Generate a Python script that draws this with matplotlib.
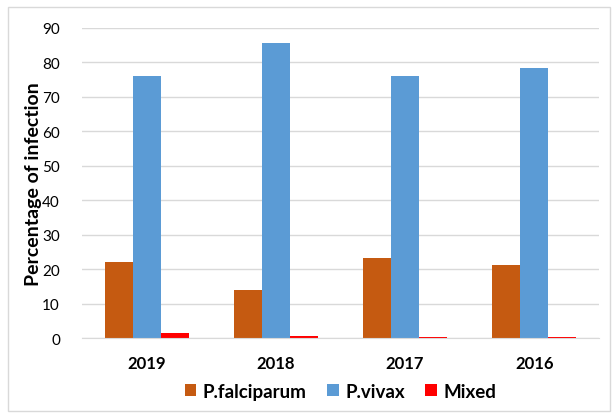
import matplotlib.pyplot as plt
import numpy as np
from matplotlib.patches import Rectangle

years = ["2019", "2018", "2017", "2016"]
falciparum = [22.1, 14.0, 23.3, 21.1]
vivax = [76.2, 85.5, 76.2, 78.5]
mixed = [1.5, 0.5, 0.3, 0.3]

plt.rcParams["font.family"] = ["Lato", "DejaVu Sans"]

fig = plt.figure(figsize=(6.13, 4.14), dpi=100)
fig.patches.append(Rectangle((0.013, 0.005), 0.982, 0.975, transform=fig.transFigure,
                             fill=False, edgecolor="#d9d9d9", linewidth=1))
ax = fig.add_axes([0.134, 0.181, 0.843, 0.749])

x = np.arange(len(years))
w = 0.217
ax.bar(x - w, falciparum, w, color="#C55A11", label="P.falciparum", zorder=3)
ax.bar(x, vivax, w, color="#5B9BD5", label="P.vivax", zorder=3)
ax.bar(x + w, mixed, w, color="#FF0000", label="Mixed", zorder=3)

ax.set_xlim(-0.5, 3.5)
ax.set_ylim(0, 90)
ax.set_yticks(range(0, 91, 10))
ax.set_xticks(x)
ax.set_xticklabels(years, fontweight="bold", fontsize=12)
ax.tick_params(axis="y", labelsize=11, length=0, pad=16)
ax.tick_params(axis="x", length=0, pad=12)
ax.grid(axis="y", color="#d9d9d9", linewidth=1, zorder=0)
for side in ["top", "right", "left"]:
    ax.spines[side].set_visible(False)
ax.spines["bottom"].set_color("#d9d9d9")
ax.spines["bottom"].set_zorder(4)
ax.set_ylabel("Percentage of infection", fontsize=14, fontweight="bold", labelpad=0)

ax.legend(loc="center", bbox_to_anchor=(0.5, -0.171), ncol=3, frameon=False,
          prop={"weight": "bold", "size": 13.5}, handlelength=0.6, handleheight=0.6,
          columnspacing=1.1, handletextpad=0.35)

fig.savefig("out.png", dpi=100)
